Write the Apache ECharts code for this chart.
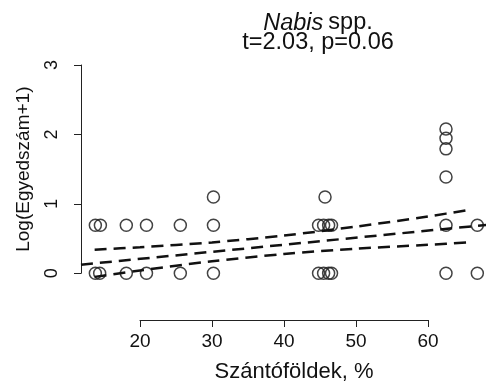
<!DOCTYPE html>
<html>
<head>
<meta charset="utf-8">
<script src="https://cdn.jsdelivr.net/npm/echarts@6/dist/echarts.min.js"></script>
<style>html,body{margin:0;padding:0;background:#fff;}#c{width:486px;height:390px;}</style>
</head>
<body>
<div id="c"></div>
<script>
// ---- data ----
const pointX = [13.8, 14.5, 13.8, 14.4, 18.1, 18.1, 20.9, 20.9, 25.6, 25.6, 30.2, 30.2, 30.2,
  44.8, 45.5, 46.2, 46.6, 45.7, 44.8, 45.5, 46.2, 46.6,
  62.5, 62.5, 62.5, 62.5, 62.5, 62.5, 66.85, 66.85];
const pointY = [0.693, 0.693, 0, 0, 0.693, 0, 0.693, 0, 0.693, 0, 1.099, 0.693, 0,
  0.693, 0.693, 0.693, 0.693, 1.099, 0, 0, 0, 0,
  2.079, 1.946, 1.792, 1.386, 0.693, 0, 0.693, 0];
const fitX = [11.8, 68.1];
const fitY = [0.124, 0.697];
const ciX = [13.7, 20, 30, 40, 50, 60, 65.8];
const ciUpper = [0.340, 0.375, 0.445, 0.544, 0.672, 0.818, 0.915];
const ciLower = [-0.052, 0.041, 0.173, 0.278, 0.354, 0.410, 0.445];
const xTicks = [20, 60, 10];   // min, max, step of the drawn x axis
const yTicks = [0, 3, 1];      // min, max, step of the drawn y axis
const titleMain = 'Nabis';
const titleSub = 'spp.';
const titleStat = 't=2.03, p=0.06';
const xName = 'Szántóföldek, %';
const yName = 'Log(Egyedszám+1)';

const FONT = '"Liberation Sans", Arial, sans-serif';
const zip = (a, b) => a.map((v, i) => [v, b[i]]);
const dash = { color: '#111', width: 2.5, type: [12, 7] };

const chart = echarts.init(document.getElementById('c'), null, { renderer: 'canvas' });
chart.setOption({
  animation: false,
  backgroundColor: '#fff',
  title: {
    left: 313, top: 8, textAlign: 'center',
    text: '{i|' + titleMain + '} {n|' + titleSub + '}\n{n|' + titleStat + '}',
    textStyle: {
      rich: {
        i: { fontFamily: FONT, fontStyle: 'italic', fontWeight: 'normal', fontSize: 23.5, color: '#111', lineHeight: 20 },
        n: { fontFamily: FONT, fontWeight: 'normal', fontSize: 23.5, color: '#111', lineHeight: 20 }
      }
    }
  },
  grid: [
    { left: 81, top: 65, width: 405, height: 255 },
    { left: 140, top: 65, width: 288, height: 255 },
    { left: 81, top: 65, width: 10, height: 208.27 },
    { left: 102, top: 65, width: 384, height: 255 }
  ],
  xAxis: [
    { gridIndex: 0, type: 'value', min: 11.806, max: 68.056, show: false },
    { gridIndex: 1, type: 'value', min: xTicks[0], max: xTicks[1], interval: xTicks[2],
      axisLine: { lineStyle: { color: '#222', width: 1 } },
      axisTick: { length: 7, lineStyle: { color: '#222', width: 1 } },
      axisLabel: { margin: 12, fontFamily: FONT, fontSize: 19, color: '#111' },
      splitLine: { show: false } },
    { gridIndex: 2, type: 'value', show: false, min: 0, max: 1 },
    { gridIndex: 3, type: 'value', min: 0, max: 1,
      axisLine: { show: false }, axisTick: { show: false }, axisLabel: { show: false }, splitLine: { show: false },
      name: xName, nameLocation: 'middle', nameGap: 41,
      nameTextStyle: { fontFamily: FONT, fontSize: 22, color: '#111' } }
  ],
  yAxis: [
    { gridIndex: 0, type: 'value', min: -0.673, max: 3, show: false },
    { gridIndex: 1, type: 'value', min: 0, max: 1, show: false },
    { gridIndex: 2, type: 'value', min: yTicks[0], max: yTicks[1], interval: yTicks[2],
      axisLine: { lineStyle: { color: '#222', width: 1 } },
      axisTick: { length: 7, lineStyle: { color: '#222', width: 1 } },
      axisLabel: { rotate: 90, margin: 20, fontFamily: FONT, fontSize: 18, color: '#111' },
      splitLine: { show: false },
      name: yName, nameLocation: 'middle', nameGap: 48,
      nameTextStyle: { fontFamily: FONT, fontSize: 19, color: '#111' } },
    { gridIndex: 3, type: 'value', min: 0, max: 1, show: false }
  ],
  series: [
    { type: 'scatter', xAxisIndex: 0, yAxisIndex: 0, data: zip(pointX, pointY),
      symbol: 'circle', symbolSize: 12,
      itemStyle: { color: 'rgba(0,0,0,0)', borderColor: '#222', borderWidth: 1.5, opacity: 0.85 } },
    { type: 'line', xAxisIndex: 0, yAxisIndex: 0, data: zip(fitX, fitY), symbol: 'none', lineStyle: dash },
    { type: 'line', xAxisIndex: 0, yAxisIndex: 0, data: zip(ciX, ciUpper), symbol: 'none', smooth: 0.3, lineStyle: dash },
    { type: 'line', xAxisIndex: 0, yAxisIndex: 0, data: zip(ciX, ciLower), symbol: 'none', smooth: 0.3, lineStyle: dash }
  ]
});
</script>
</body>
</html>
